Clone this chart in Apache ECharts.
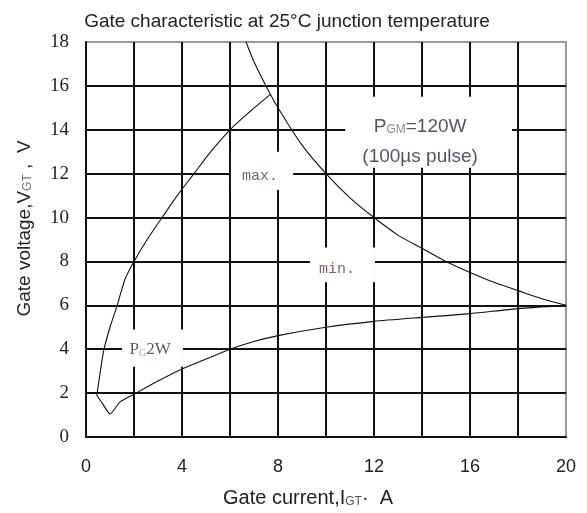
<!DOCTYPE html>
<html>
<head>
<meta charset="utf-8">
<script src="https://cdn.jsdelivr.net/npm/echarts@6/dist/echarts.min.js"></script>
<style>
  html, body { margin: 0; padding: 0; background: #fff; }
  #chart { width: 587px; height: 513px; }
</style>
</head>
<body>
<div id="chart"></div>
<script>
// gate current I (A) / gate voltage V (V)
var maxCurrent = [0.45, 0.6, 0.75, 1.0, 1.3, 1.63, 2.0, 2.55, 3.17, 3.8, 4.5, 5.2, 6.0, 6.8, 7.67];
var maxVoltage = [1.9, 3.0, 4.0, 5.0, 6.0, 7.2, 8.0, 9.0, 10.0, 11.0, 12.0, 13.0, 14.0, 14.8, 15.6];

var minCurrent = [0.45, 0.7, 1.0, 1.42, 2.0, 3.0, 4.0, 5.0, 6.0, 7.0, 8.0, 10.0, 12.0, 14.0, 16.0, 18.0, 20.0];
var minVoltage = [1.9, 1.5, 1.05, 1.6, 1.95, 2.55, 3.1, 3.55, 4.0, 4.35, 4.62, 5.0, 5.27, 5.45, 5.62, 5.85, 6.0];

// 120 W peak power limit
var pgmCurrent = [6.67, 7.0, 7.5, 8.0, 9.0, 10.0, 11.0, 12.0, 13.0, 14.0, 15.0, 16.0, 17.0, 18.0, 19.0, 20.0];
var pgmVoltage = [18.0, 17.1, 16.0, 15.0, 13.3, 12.0, 10.9, 10.0, 9.2, 8.6, 8.0, 7.5, 7.05, 6.67, 6.3, 6.0];

var xTicks = [0, 4, 8, 12, 16, 20];
var yTicks = [0, 2, 4, 6, 8, 10, 12, 14, 16, 18];

// annotation text anchors [I, V] and the white patches behind them [I1, V1, I2, V2]
var notePG = [2.67, 4.0];
var noteMax = [7.25, 11.9];
var noteMin = [10.46, 7.64];
var notePGM = [13.92, 13.45];
var patches = [
    [1.5, 3.2, 4.04, 4.9],
    [6.04, 11.27, 8.63, 13.0],
    [9.33, 7.05, 12.04, 8.64],
    [10.8, 12.27, 17.75, 15.5]
];

function pairs(xs, ys) {
    var out = [];
    for (var i = 0; i < xs.length; i++) out.push([xs[i], ys[i]]);
    return out;
}

var sans = 'Liberation Sans';
var serif = 'Liberation Serif';
var mono = 'Liberation Mono';

var notes = [
    { value: notePG, label: { formatter: '{p|P}{s|G}{p|2W}' } },
    { value: noteMax, label: { formatter: '{m|max.}' } },
    { value: noteMin, label: { formatter: '{m|min.}' } },
    { value: notePGM, label: { formatter: '{a|P}{b|GM}{a|=120W}\n{a|(100µs pulse)}' } }
];

var curveStyle = { color: '#111', width: 1.1 };

var option = {
    backgroundColor: '#fff',
    animation: false,
    title: {
        text: 'Gate characteristic at 25°C junction temperature',
        left: 282,
        textAlign: 'center',
        top: 7,
        textStyle: { fontFamily: sans, fontWeight: 'normal', fontSize: 19, color: '#222' }
    },
    grid: {
        left: 86, right: 21, top: 42, bottom: 75,
        show: true, borderColor: '#9a9a9a', borderWidth: 2
    },
    xAxis: {
        type: 'value',
        min: 0, max: 20, interval: 2,
        name: '{n|Gate current,I}{s|GT}{n|·  A}',
        nameLocation: 'middle',
        nameGap: 51,
        nameTextStyle: {
            padding: [0, 36, 0, 0],
            rich: {
                n: { fontFamily: sans, fontSize: 20, color: '#222' },
                s: { fontFamily: sans, fontSize: 12, color: '#555', padding: [7, 0, 0, 0] }
            }
        },
        axisLine: { lineStyle: { color: '#111', width: 2 } },
        axisTick: { show: false },
        axisLabel: {
            margin: 21,
            fontFamily: sans, fontSize: 18, color: '#222',
            formatter: function (v) { return xTicks.indexOf(v) >= 0 ? String(v) : ''; }
        },
        splitLine: { show: true, showMaxLine: false, lineStyle: { color: '#111', width: 2 } }
    },
    yAxis: {
        type: 'value',
        min: 0, max: 18, interval: 2,
        name: '{n|Gate voltage,V}{s|GT}{n| ,  V}',
        nameLocation: 'middle',
        nameGap: 52,
        nameTextStyle: {
            padding: [0, 0, 0, 22],
            rich: {
                n: { fontFamily: sans, fontSize: 19, color: '#222' },
                s: { fontFamily: sans, fontSize: 12, color: '#777', padding: [7, 0, 0, 0] }
            }
        },
        axisLine: { show: true, lineStyle: { color: '#111', width: 2 } },
        axisTick: { show: false },
        axisLabel: {
            margin: 17,
            fontFamily: serif, fontSize: 19, color: '#222',
            formatter: function (v) { return yTicks.indexOf(v) >= 0 ? String(v) : ''; }
        },
        splitLine: { show: true, showMaxLine: false, lineStyle: { color: '#111', width: 2 } }
    },
    series: [
        {
            type: 'scatter',
            symbolSize: 0,
            z: 3,
            silent: true,
            data: notes,
            label: {
                show: true,
                position: 'inside',
                rich: {
                    p: { fontFamily: serif, fontSize: 17, color: '#333' },
                    s: { fontFamily: serif, fontSize: 10, color: '#c08a3a', padding: [8, 0, 0, 0] },
                    m: { fontFamily: mono, fontSize: 15, color: '#5a4030' },
                    a: { fontFamily: sans, fontSize: 19, color: '#2a2540', lineHeight: 30 },
                    b: { fontFamily: sans, fontSize: 12, color: '#6a6a8a', lineHeight: 30, padding: [6, 0, 0, 0] }
                }
            },
            markArea: {
                silent: true,
                itemStyle: { color: '#fff', opacity: 1, borderWidth: 0 },
                data: patches.map(function (p) {
                    return [{ coord: [p[0], p[1]] }, { coord: [p[2], p[3]] }];
                })
            }
        },
        {
            type: 'line', z: 4, symbol: 'none', smooth: 0.3,
            lineStyle: curveStyle,
            data: pairs(maxCurrent, maxVoltage)
        },
        {
            type: 'line', z: 4, symbol: 'none', smooth: 0.2,
            lineStyle: curveStyle,
            data: pairs(minCurrent, minVoltage)
        },
        {
            type: 'line', z: 4, symbol: 'none', smooth: 0.3,
            lineStyle: curveStyle,
            data: pairs(pgmCurrent, pgmVoltage)
        }
    ]
};

var chart = echarts.init(document.getElementById('chart'));
chart.setOption(option);
</script>
</body>
</html>
